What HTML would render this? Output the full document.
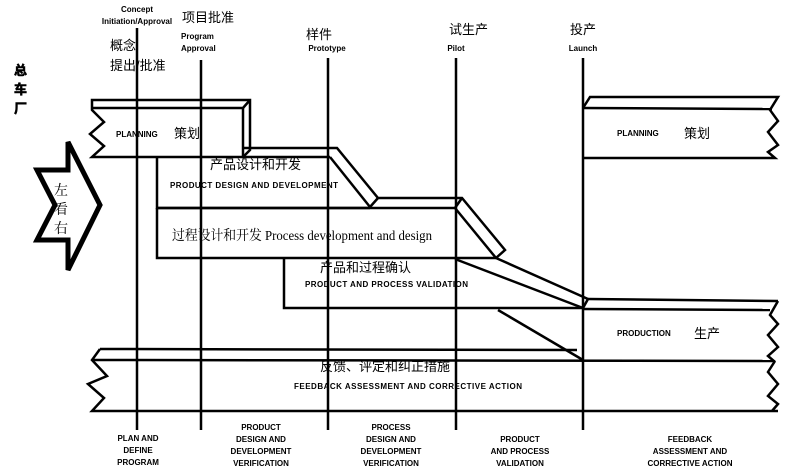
<!DOCTYPE html>
<html><head><meta charset="utf-8"><style>
html,body{margin:0;padding:0;background:#fff;}
svg{display:block;}
.b{font-family:"Liberation Sans",Arial,sans-serif;font-weight:bold;font-size:8px;fill:#000;}
.c{font-family:"Liberation Sans","Noto Sans CJK SC",sans-serif;font-size:13px;fill:#000;}
.s{font-family:"Liberation Serif","Noto Serif CJK SC",serif;font-size:14px;fill:#000;}
</style></head><body>
<svg width="795" height="475" viewBox="0 0 795 475" xmlns="http://www.w3.org/2000/svg">
<g fill="none" stroke="#000" stroke-width="2.5" stroke-linejoin="miter">
<line x1="137" y1="28" x2="137" y2="430"/>
<line x1="201" y1="60" x2="201" y2="430"/>
<line x1="328" y1="58" x2="328" y2="430"/>
<line x1="456" y1="58" x2="456" y2="430"/>
<line x1="583" y1="58" x2="583" y2="430"/>

<polygon fill="#fff" points="92,100 250,100 250,150 243,157 92,157 104,146 90,134 104,122 92,110"/>
<polyline points="92,108 243,108 250,100"/>
<line x1="243" y1="108" x2="243" y2="157"/>
<line x1="137" y1="100" x2="137" y2="157"/>
<line x1="201" y1="100" x2="201" y2="157"/>

<polyline points="243,148 337,148 378,198 462,198 505,250 496,258"/>
<polyline points="157,157 157,208 370,208"/>
<line x1="243" y1="157" x2="330" y2="157"/>
<line x1="330" y1="157" x2="370" y2="207"/>
<line x1="370" y1="207" x2="378" y2="198"/>
<line x1="157" y1="208" x2="455" y2="208"/>
<line x1="455" y1="208" x2="496" y2="258"/>
<polyline points="157,208 157,258 496,258"/>
<line x1="462" y1="198" x2="455" y2="208"/>
<polyline points="284,258 284,308 583,308"/>
<line x1="455" y1="259" x2="583" y2="308"/>
<line x1="496" y1="258" x2="588" y2="299"/>
<line x1="583" y1="308" x2="588" y2="299"/>
<line x1="588" y1="299" x2="778" y2="301"/>
<line x1="583" y1="309" x2="770" y2="310"/>
<line x1="498" y1="310" x2="583" y2="360"/>
<polyline points="778,301 770,315 778,324 768,335 778,347 768,356 775,362"/>
<line x1="100" y1="349" x2="577" y2="350"/>
<line x1="92" y1="360" x2="775" y2="361"/>
<polyline points="100,349 92,360 107,376 88,384 104,398 92,411 778,411"/>
<polyline points="775,361 768,372 778,384 768,396 778,404 772,411"/>
<polyline points="583,108 590,97 778,97 770,110 778,121 768,132 778,145 768,152 775,158 583,158"/>
<line x1="583" y1="108" x2="772" y2="109"/>
<polygon stroke-width="5" fill="#fff" points="37,170 68,170 68,142 100,205 68,270 68,240 37,240 55,205"/>
</g>
<text class="b" x="137" y="12" text-anchor="middle">Concept</text>
<text class="b" x="137" y="24" text-anchor="middle">Initiation/Approval</text>
<text class="c" x="182" y="22" font-size="14">项目批准</text>
<text class="b" x="181" y="39">Program</text>
<text class="b" x="181" y="51">Approval</text>
<text class="c" x="110" y="50">概念</text>
<text class="c" x="110" y="70">提出/批准</text>
<text class="c" x="306" y="39">样件</text>
<text class="b" x="327" y="51" text-anchor="middle">Prototype</text>
<text class="c" x="449" y="34">试生产</text>
<text class="b" x="456" y="51" text-anchor="middle">Pilot</text>
<text class="c" x="570" y="34">投产</text>
<text class="b" x="583" y="51" text-anchor="middle">Launch</text>
<text class="c" x="14" y="75" font-weight="bold" stroke="#000" stroke-width="0.6">总</text>
<text class="c" x="14" y="94" font-weight="bold" stroke="#000" stroke-width="0.6">车</text>
<text class="c" x="14" y="113" font-weight="bold" stroke="#000" stroke-width="0.6">厂</text>
<text class="s" x="61" y="195" text-anchor="middle">左</text>
<text class="s" x="61" y="214" text-anchor="middle">看</text>
<text class="s" x="61" y="233" text-anchor="middle">右</text>
<text class="b" x="116" y="137">PLANNING</text>
<text class="c" x="174" y="138">策划</text>
<text class="c" x="210" y="169">产品设计和开发</text>
<text class="b" x="170" y="188" textLength="168">PRODUCT DESIGN AND DEVELOPMENT</text>
<text class="s" x="172" y="240" font-size="15" textLength="260" lengthAdjust="spacingAndGlyphs">过程设计和开发 Process development and design</text>
<text class="c" x="320" y="272">产品和过程确认</text>
<text class="b" x="305" y="287" textLength="163">PRODUCT AND PROCESS VALIDATION</text>
<text class="b" x="617" y="336">PRODUCTION</text>
<text class="c" x="694" y="338">生产</text>
<text class="b" x="617" y="136">PLANNING</text>
<text class="c" x="684" y="138">策划</text>
<text class="c" x="320" y="371">反馈、评定和纠正措施</text>
<text class="b" x="294" y="389" textLength="228">FEEDBACK ASSESSMENT AND CORRECTIVE ACTION</text>
<g class="b" text-anchor="middle">
<text x="138" y="441">PLAN AND</text><text x="138" y="453">DEFINE</text><text x="138" y="465">PROGRAM</text>
<text x="261" y="430">PRODUCT</text><text x="261" y="442">DESIGN AND</text><text x="261" y="454">DEVELOPMENT</text><text x="261" y="466">VERIFICATION</text>
<text x="391" y="430">PROCESS</text><text x="391" y="442">DESIGN AND</text><text x="391" y="454">DEVELOPMENT</text><text x="391" y="466">VERIFICATION</text>
<text x="520" y="442">PRODUCT</text><text x="520" y="454">AND PROCESS</text><text x="520" y="466">VALIDATION</text>
<text x="690" y="442">FEEDBACK</text><text x="690" y="454">ASSESSMENT AND</text><text x="690" y="466">CORRECTIVE ACTION</text>
</g>
</svg>
</body></html>
